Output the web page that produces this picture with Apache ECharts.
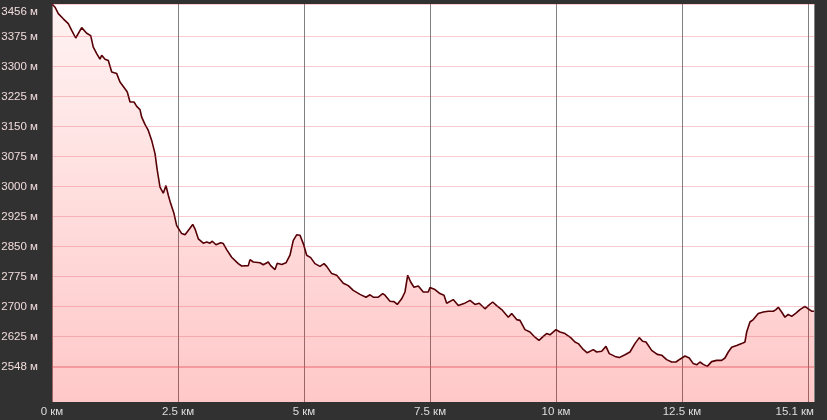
<!DOCTYPE html>
<html>
<head>
<meta charset="utf-8">
<script src="https://cdn.jsdelivr.net/npm/echarts@6/dist/echarts.min.js"></script>
<style>
html,body{margin:0;padding:0;background:#313131;}
#c{width:827px;height:420px;}
</style>
</head>
<body>
<div id="c"></div>
<script>
// distance (km) and elevation (m)
const distKm = [0,0.060,0.125,0.224,0.323,0.391,0.470,0.589,0.688,0.768,0.819,0.887,0.952,0.986,1.052,1.117,1.185,1.284,1.349,1.448,1.494,1.548,1.627,1.681,1.746,1.780,1.845,1.911,1.978,2.044,2.089,2.143,2.208,2.262,2.308,2.355,2.421,2.474,2.573,2.639,2.704,2.792,2.837,2.903,3.002,3.069,3.135,3.181,3.254,3.347,3.399,3.466,3.565,3.696,3.764,3.895,3.929,3.994,4.127,4.192,4.292,4.339,4.425,4.470,4.558,4.643,4.722,4.788,4.855,4.921,4.986,5.054,5.133,5.218,5.317,5.397,5.450,5.550,5.649,5.780,5.879,5.978,6.111,6.230,6.310,6.375,6.474,6.562,6.607,6.706,6.786,6.851,6.938,7.004,7.058,7.117,7.183,7.268,7.367,7.466,7.500,7.599,7.698,7.778,7.831,7.863,7.962,8.062,8.175,8.294,8.393,8.478,8.591,8.657,8.744,8.823,8.923,9.054,9.121,9.220,9.286,9.385,9.484,9.583,9.663,9.748,9.815,9.881,10.000,10.079,10.179,10.292,10.377,10.442,10.530,10.621,10.740,10.808,10.907,10.992,11.058,11.171,11.256,11.369,11.468,11.567,11.653,11.720,11.786,11.899,12.010,12.097,12.196,12.296,12.381,12.460,12.560,12.645,12.724,12.792,12.857,12.923,13.002,13.089,13.188,13.288,13.353,13.419,13.486,13.585,13.685,13.750,13.784,13.849,13.915,14.014,14.113,14.212,14.312,14.365,14.411,14.478,14.544,14.609,14.677,14.762,14.841,14.940,15.006,15.073,15.119];
const elevM = [3456,3448,3432,3419,3407,3390,3371,3397,3383,3377,3348,3332,3318,3328,3318,3315,3286,3282,3261,3244,3236,3211,3211,3200,3192,3173,3155,3140,3115,3082,3040,2998,2983,3002,2978,2957,2932,2902,2882,2879,2890,2905,2894,2869,2858,2861,2858,2863,2854,2859,2857,2842,2823,2807,2801,2802,2817,2811,2809,2804,2811,2802,2792,2808,2805,2809,2828,2865,2879,2878,2857,2828,2822,2807,2800,2807,2800,2782,2778,2758,2752,2740,2730,2723,2729,2723,2723,2732,2728,2713,2712,2705,2719,2736,2778,2761,2748,2751,2736,2736,2747,2742,2732,2728,2708,2707,2717,2702,2707,2715,2705,2708,2694,2702,2711,2702,2692,2673,2682,2667,2665,2642,2636,2623,2615,2625,2632,2629,2642,2636,2632,2622,2611,2607,2594,2584,2592,2586,2588,2600,2582,2575,2572,2579,2586,2607,2622,2613,2611,2590,2580,2578,2567,2561,2561,2568,2576,2571,2557,2554,2561,2555,2550,2562,2565,2565,2571,2586,2598,2602,2607,2611,2636,2661,2667,2682,2686,2688,2688,2692,2698,2686,2673,2680,2675,2683,2692,2700,2694,2688,2688];
const yTicks = [3456,3375,3300,3225,3150,3075,3000,2925,2850,2775,2700,2625,2548];
const xTickVals = [0,2.5,5,7.5,10,12.5,15.12];
const xTickLabels = ['0 км','2.5 км','5 км','7.5 км','10 км','12.5 км','15.1 км'];
const totalKm = 15.12;

const points = distKm.map((d,i)=>[d,elevM[i]]);
const FONT = 'Liberation Sans, Arial, sans-serif';

const chart = echarts.init(document.getElementById('c'), null, {renderer:'canvas'});
chart.setOption({
  backgroundColor:'#313131',
  animation:false,
  grid:{left:52,right:13,top:4,bottom:18,show:true,backgroundColor:'#ffffff',borderWidth:0,containLabel:false,outerBoundsMode:'none'},
  xAxis:{
    type:'value',min:0,max:totalKm,interval:2.5,
    axisLine:{show:false},axisTick:{show:false},
    splitLine:{show:true,lineStyle:{color:'#808080',width:1}},
    axisLabel:{
      customValues:xTickVals,
      margin:4,color:'#dedede',fontFamily:FONT,fontSize:11.5,
      alignMaxLabel:'right',
      formatter:function(v){const i=xTickVals.findIndex(t=>Math.abs(t-v)<1e-6);return i>=0?xTickLabels[i]:'';}
    }
  },
  yAxis:{
    type:'value',min:2461,max:3456,
    axisLine:{show:false},axisTick:{show:false},splitLine:{show:false},
    axisLabel:{
      customValues:yTicks,
      margin:14,color:'#f2dcdc',fontFamily:FONT,fontSize:11.5,
      formatter:function(v){return v===yTicks[0]?'{t|'+v+' м}':v+' м';},
      rich:{t:{padding:[16,0,0,0],color:'#f2dcdc',fontFamily:FONT,fontSize:11.5}}
    }
  },
  series:[{
    type:'line',
    data:points,
    showSymbol:false,
    symbol:'none',
    lineStyle:{color:'#560006',width:1.6},
    areaStyle:{
      origin:'start',
      color:new echarts.graphic.LinearGradient(0,0,0,1,[
        {offset:0,color:'rgba(255,0,0,0.07)'},
        {offset:1,color:'rgba(255,0,0,0.31)'}
      ])
    },
    markLine:{
      silent:true,symbol:['none','none'],label:{show:false},
      data:yTicks.map(v=>({yAxis:v,lineStyle:{color:'rgba(225,70,85,'+(v===2548?'0.38':'0.28')+')',width:(v===2548?2:1),type:'solid'}}))
    }
  }]
});
</script>
</body>
</html>
